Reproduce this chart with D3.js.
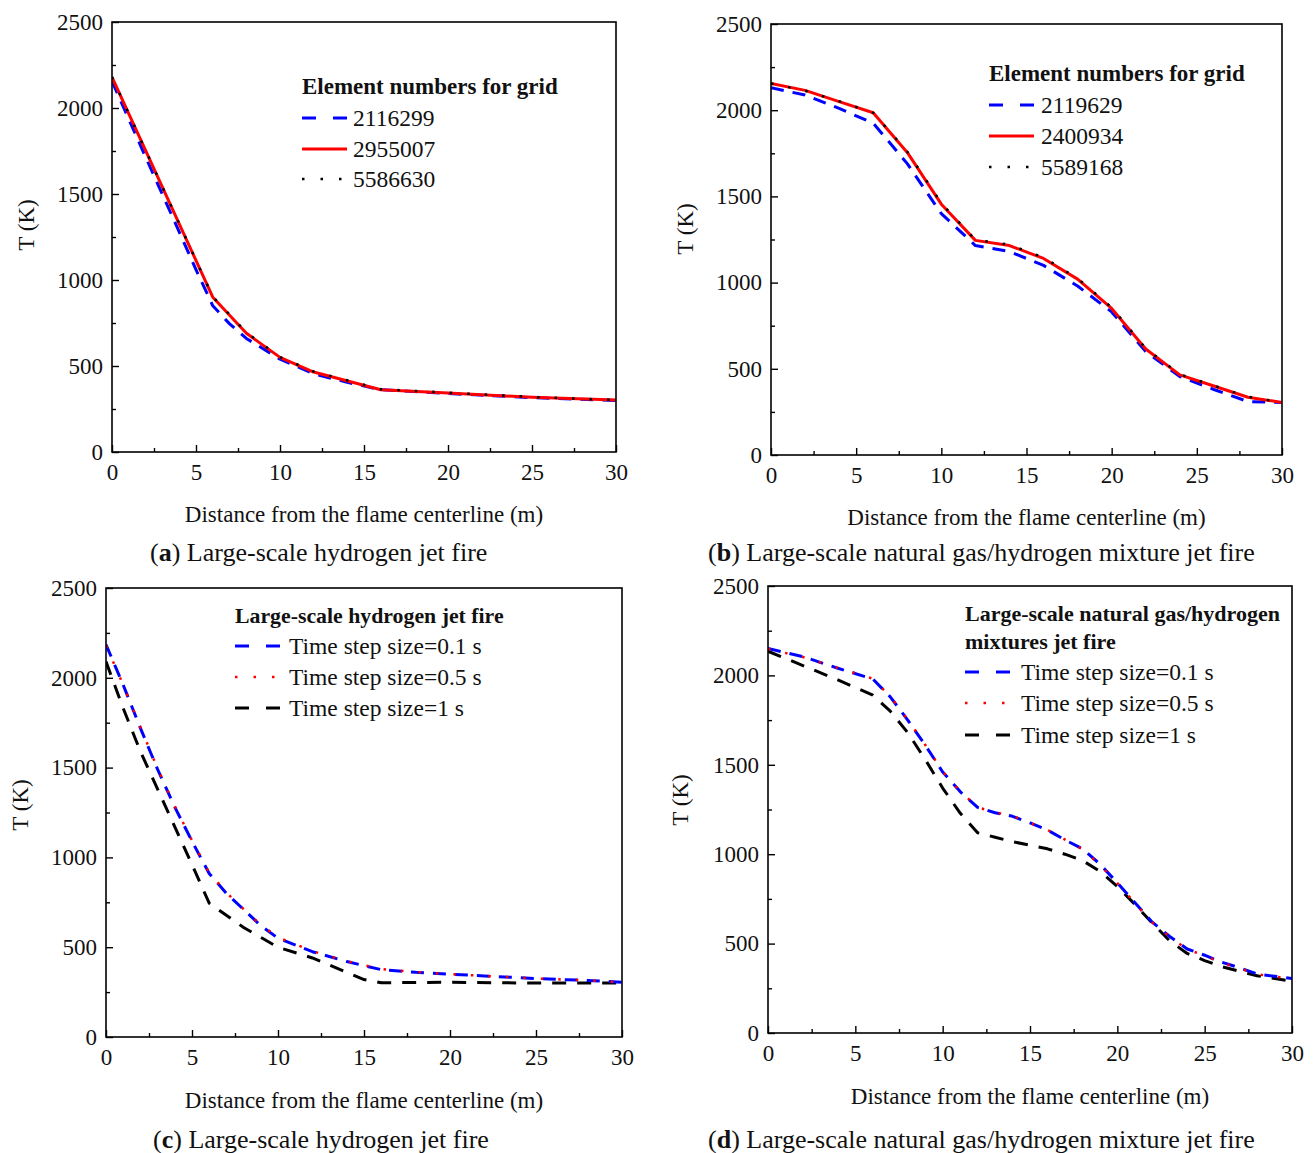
<!DOCTYPE html>
<html>
<head>
<meta charset="utf-8">
<script src="https://cdn.jsdelivr.net/npm/d3@7"></script>
<style>
  html, body { margin: 0; padding: 0; background: #fff; }
  svg { display: block; }
  text { font-family: 'Liberation Serif', 'Times New Roman', serif; fill: #111; }
</style>
</head>
<body>
<svg id="chart" width="1313" height="1153"></svg>
<script>
// ---------------- DATA ----------------
const xTicks = [0, 5, 10, 15, 20, 25, 30];
const yTicks = [0, 500, 1000, 1500, 2000, 2500];

// (a) grid independence, hydrogen jet fire
const a_x_2116299 = [0, 2, 4, 5, 6, 7, 8, 10, 12, 14, 16, 20, 25, 30];
const a_T_2116299 = [2155, 1715, 1280, 1060, 850, 745, 660, 540, 455, 405, 362, 340, 316, 300];
const a_x_2955007 = [0, 6, 8, 10, 12, 16, 20, 25, 30];
const a_T_2955007 = [2180, 900, 690, 550, 465, 362, 343, 318, 302];
const a_x_5586630 = [0, 6, 8, 10, 12, 16, 20, 25, 30];
const a_T_5586630 = [2180, 902, 695, 552, 468, 365, 345, 320, 302];

// (b) grid independence, natural gas/hydrogen mixture jet fire
const b_x = [0, 2, 4, 6, 8, 10, 12, 14, 16, 18, 20, 22, 24, 26, 28, 30];
const b_T_2119629 = [2130, 2088, 2010, 1925, 1690, 1400, 1215, 1180, 1100, 980, 830, 600, 455, 380, 310, 305];
const b_T_2400934 = [2155, 2115, 2050, 1985, 1755, 1455, 1245, 1215, 1140, 1020, 850, 615, 465, 400, 335, 305];
const b_T_5589168 = [2155, 2113, 2052, 1985, 1760, 1460, 1248, 1220, 1145, 1025, 855, 618, 468, 402, 338, 305];

// (c) time step independence, hydrogen jet fire
const c_x = [0, 1, 2, 3, 4, 5, 6, 7, 8, 9, 10, 12, 14, 16, 18, 20, 22, 25, 28, 30];
const c_T_01 = [2185, 1960, 1720, 1490, 1280, 1090, 910, 800, 710, 620, 550, 475, 420, 375, 360, 350, 340, 325, 315, 305];
const c_T_05 = [2180, 1960, 1725, 1495, 1285, 1095, 915, 805, 712, 625, 555, 478, 422, 378, 362, 350, 340, 326, 315, 305];
const c_x_1 = [0, 1, 2, 3, 4, 5, 6, 8, 10, 12, 14, 15, 16, 20, 25, 30];
const c_T_1 = [2090, 1830, 1590, 1380, 1170, 960, 745, 610, 500, 440, 360, 320, 302, 305, 300, 300];

// (d) time step independence, natural gas/hydrogen mixture jet fire
const d_x = [0, 2, 4, 6, 7, 8, 9, 10, 11, 12, 13, 14, 15, 16, 17, 18, 19, 20, 21, 22, 23, 24, 25, 26, 27, 28, 30];
const d_T_01 = [2150, 2105, 2040, 1980, 1880, 1750, 1610, 1460, 1350, 1262, 1232, 1212, 1175, 1135, 1080, 1030, 945, 840, 730, 620, 540, 470, 435, 395, 365, 330, 305];
const d_T_05 = [2148, 2103, 2042, 1982, 1882, 1752, 1612, 1462, 1352, 1262, 1234, 1214, 1176, 1136, 1082, 1028, 942, 838, 728, 618, 538, 468, 432, 392, 362, 328, 303];
const d_T_1  = [2135, 2055, 1975, 1890, 1800, 1680, 1530, 1370, 1230, 1120, 1095, 1070, 1050, 1030, 1000, 965, 905, 820, 720, 615, 515, 445, 405, 370, 345, 320, 290];

const xTitle = "Distance from the flame centerline (m)";
const yTitle = "T (K)";

// ---------------- STYLES ----------------
const blueDash = { stroke: "#0000ff", width: 3, dash: "13,9" };
const redSolid = { stroke: "#ff0000", width: 3, dash: null };
const blackDot = { stroke: "#000000", width: 2.5, dash: "2.5,15" };
const redDot   = { stroke: "#ff0000", width: 2.5, dash: "2.5,15" };
const blackDash= { stroke: "#000000", width: 3, dash: "14,11" };

const panels = [
  {
    box: { l: 112, t: 22, r: 616, b: 452 },
    xTitleY: 514, yTitleX: 26, yTitleY: 225,
    caption: { x: 150, y: 552, tag: "a", text: " Large-scale hydrogen jet fire" },
    legend: { x: 302, titleY: [86], rows: [118, 149, 179], sampleW: 44, textX: 353, titleSize: 23,
              title: ["Element numbers for grid"] },
    series: [
      { name: "2116299", x: a_x_2116299, y: a_T_2116299, style: blueDash },
      { name: "2955007", x: a_x_2955007, y: a_T_2955007, style: redSolid },
      { name: "5586630", x: a_x_5586630, y: a_T_5586630, style: blackDot }
    ],
    legendOrder: [0, 1, 2]
  },
  {
    box: { l: 771, t: 24, r: 1282, b: 455 },
    xTitleY: 517, yTitleX: 685, yTitleY: 229,
    caption: { x: 708, y: 552, tag: "b", text: " Large-scale natural gas/hydrogen mixture jet fire" },
    legend: { x: 989, titleY: [73], rows: [105, 136, 167], sampleW: 44, textX: 1041, titleSize: 23,
              title: ["Element numbers for grid"] },
    series: [
      { name: "2119629", x: b_x, y: b_T_2119629, style: blueDash },
      { name: "2400934", x: b_x, y: b_T_2400934, style: redSolid },
      { name: "5589168", x: b_x, y: b_T_5589168, style: blackDot }
    ],
    legendOrder: [0, 1, 2]
  },
  {
    box: { l: 106, t: 588, r: 622, b: 1037 },
    xTitleY: 1100, yTitleX: 20, yTitleY: 805,
    caption: { x: 153, y: 1139, tag: "c", text: " Large-scale hydrogen jet fire" },
    legend: { x: 235, titleY: [616], rows: [646, 677, 708], sampleW: 45, textX: 289, titleSize: 21.8,
              title: ["Large-scale hydrogen jet fire"] },
    series: [
      { name: "Time step size=1 s", x: c_x_1, y: c_T_1, style: blackDash },
      { name: "Time step size=0.1 s", x: c_x, y: c_T_01, style: blueDash },
      { name: "Time step size=0.5 s", x: c_x, y: c_T_05, style: redDot }
    ],
    legendOrder: [1, 2, 0]
  },
  {
    box: { l: 768, t: 586, r: 1292, b: 1033 },
    xTitleY: 1096, yTitleX: 680, yTitleY: 800,
    caption: { x: 708, y: 1139, tag: "d", text: " Large-scale natural gas/hydrogen mixture jet fire" },
    legend: { x: 965, titleY: [613, 641], rows: [672, 703, 735], sampleW: 47, textX: 1021, titleSize: 22,
              title: ["Large-scale natural gas/hydrogen", "mixtures jet fire"] },
    series: [
      { name: "Time step size=1 s", x: d_x, y: d_T_1, style: blackDash },
      { name: "Time step size=0.1 s", x: d_x, y: d_T_01, style: blueDash },
      { name: "Time step size=0.5 s", x: d_x, y: d_T_05, style: redDot }
    ],
    legendOrder: [1, 2, 0]
  }
];

const svg = d3.select("#chart");

function applyStyle(sel, st) {
  sel.attr("fill", "none")
     .attr("stroke", st.stroke)
     .attr("stroke-width", st.width)
     .attr("stroke-linejoin", "round");
  if (st.dash) sel.attr("stroke-dasharray", st.dash);
}

panels.forEach(p => {
  const { l, t, r, b } = p.box;
  const x = d3.scaleLinear().domain([0, 30]).range([l, r]);
  const y = d3.scaleLinear().domain([0, 2500]).range([b, t]);
  const g = svg.append("g");

  const cid = "clip" + l + "_" + t;
  svg.append("defs").append("clipPath").attr("id", cid)
    .append("rect").attr("x", l).attr("y", t).attr("width", r - l).attr("height", b - t);

  const line = d3.line().x(d => x(d[0])).y(d => y(d[1]));
  const sg = g.append("g").attr("clip-path", `url(#${cid})`);
  p.series.forEach(s => {
    const pts = s.x.map((xv, i) => [xv, s.y[i]]);
    sg.append("path").datum(pts).attr("d", line).call(applyStyle, s.style);
  });

  g.append("rect").attr("x", l).attr("y", t).attr("width", r - l).attr("height", b - t)
    .attr("fill", "none").attr("stroke", "#000").attr("stroke-width", 1.6);

  const xAxis = d3.axisBottom(x).tickValues(xTicks).tickSize(-7).tickPadding(12).tickFormat(d3.format("d"));
  const xMinor = d3.axisBottom(x).tickValues(d3.range(2.5, 30, 5)).tickSize(-4).tickFormat("");
  const yAxis = d3.axisLeft(y).tickValues(yTicks).tickSize(-7).tickPadding(9).tickFormat(d3.format("d"));
  const yMinor = d3.axisLeft(y).tickValues(d3.range(250, 2500, 500)).tickSize(-4).tickFormat("");

  [[xAxis, "x"], [xMinor, "x"], [yAxis, "y"], [yMinor, "y"]].forEach(([ax, k]) => {
    const ag = g.append("g").attr("transform", k === "x" ? `translate(0,${b})` : `translate(${l},0)`).call(ax);
    ag.select(".domain").remove();
    ag.selectAll(".tick line").attr("stroke", "#000").attr("stroke-width", 1.4);
    ag.selectAll(".tick text").style("font-family", "'Liberation Serif','Times New Roman',serif")
      .style("font-size", "23px").attr("fill", "#111");
  });

  g.append("text").attr("x", (l + r) / 2).attr("y", p.xTitleY).attr("text-anchor", "middle")
    .attr("dominant-baseline", "central").style("font-size", "23px").text(xTitle);
  g.append("text").attr("transform", `translate(${p.yTitleX},${p.yTitleY}) rotate(-90)`)
    .attr("text-anchor", "middle").attr("dominant-baseline", "central")
    .style("font-size", "23px").text(yTitle);

  const cap = g.append("text").attr("x", p.caption.x).attr("y", p.caption.y)
    .attr("dominant-baseline", "central").style("font-size", "26px");
  cap.append("tspan").text("(");
  cap.append("tspan").style("font-weight", "bold").text(p.caption.tag);
  cap.append("tspan").text(")" + p.caption.text);

  const L = p.legend;
  L.title.forEach((tt, i) => {
    g.append("text").attr("x", L.x).attr("y", L.titleY[i]).attr("dominant-baseline", "central")
      .style("font-size", L.titleSize + "px").style("font-weight", "bold").text(tt);
  });
  p.legendOrder.forEach((si, row) => {
    const s = p.series[si];
    const yy = L.rows[row];
    const st = s.style;
    let dash = st.dash;
    if (st === blueDash || st === blackDash) dash = "14,17";
    if (st === blackDot || st === redDot) dash = "2.5,16";
    const ln = g.append("line").attr("x1", L.x).attr("x2", L.x + L.sampleW + 1)
      .attr("y1", yy).attr("y2", yy).call(applyStyle, st);
    if (dash) ln.attr("stroke-dasharray", dash);
    g.append("text").attr("x", L.textX).attr("y", yy).attr("dominant-baseline", "central")
      .style("font-size", "23.5px").text(s.name);
  });
});
</script>
</body>
</html>
